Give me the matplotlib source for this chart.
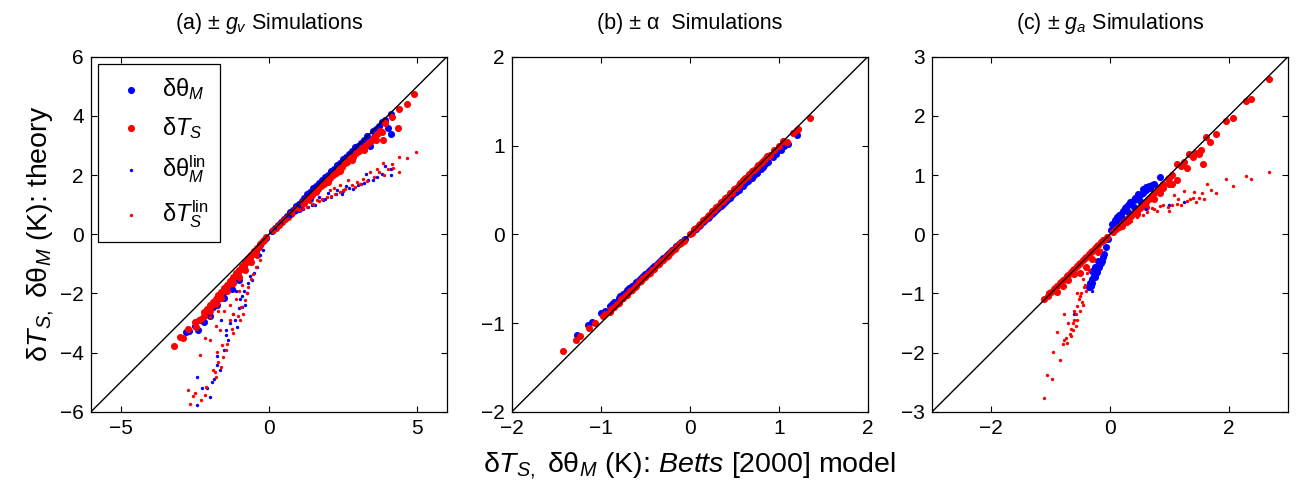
import matplotlib
matplotlib.use("Agg")
import matplotlib.pyplot as plt

plt.rcParams['font.family'] = ['Liberation Sans', 'DejaVu Sans']
plt.rcParams['mathtext.fontset'] = 'custom'
plt.rcParams['mathtext.rm'] = 'Liberation Sans'
plt.rcParams['mathtext.it'] = 'Liberation Sans:italic'
plt.rcParams['mathtext.sf'] = 'Liberation Sans'

# ------------------------------------------------------------
# Data (model value x, theory value y)
# ------------------------------------------------------------
# (a) +/- g_v simulations
a_thM_x = [0.1, 0.3, 0.5, 0.7, 0.9, 1.1, 1.3, 1.5, 1.7, 1.9, 2.1, 2.3, 2.5, 2.7, 2.9, 3.1, 3.3, 3.5,
           3.7, 3.9, 4.1, 4.1, 3.4, 1.0, 1.4,
           0.2, 0.4, 0.6, 0.8, 1.0, 1.2, 1.4, 1.6, 1.8, 2.0, 2.2, 2.4, 2.6, 2.8, 3.0, 3.2, 3.6, 3.8, 4.0,
           -0.1, -0.3, -0.5, -0.7, -0.9, -1.1, -1.3, -1.5, -1.7, -1.9, -2.1, -2.3, -2.5, -2.7, -2.4, -2.78,
           -1.0, -1.25, -1.5, -1.75, -2.0, -2.2]
a_thM_y = [0.12, 0.33, 0.52, 0.74, 0.95, 1.13, 1.36, 1.56, 1.74, 1.95, 2.14, 2.36, 2.55, 2.72, 2.95, 3.1, 3.33, 3.5,
           3.66, 3.85, 4.08, 3.40, 3.0, 0.85, 1.2,
           0.22, 0.43, 0.62, 0.83, 1.02, 1.23, 1.42, 1.62, 1.83, 2.02, 2.22, 2.41, 2.6, 2.82, 2.98, 3.2, 3.55, 3.8, 3.6,
           -0.12, -0.36, -0.62, -0.88, -1.15, -1.42, -1.7, -1.95, -2.2, -2.45, -2.68, -2.9, -3.1, -3.28, -3.25, -3.3,
           -1.55, -1.85, -2.15, -2.4, -2.75, -2.95]

a_TS_x = [0.15, 0.35, 0.55, 0.75, 0.95, 1.15, 1.35, 1.55, 1.75, 1.95, 2.15, 2.35, 2.55, 2.75, 2.95, 3.15,
          3.35, 3.55, 3.75, 3.85, 3.9, 4.15, 4.36, 4.4, 4.65, 4.9,
          1.2, 1.6, 2.0, 2.4, 2.8, 3.2, 3.6, 3.8,
          0.25, 0.45, 0.65, 0.85, 1.05, 1.25, 1.45, 1.65, 1.85, 2.05, 2.25, 2.45, 2.65, 2.85, 3.05, 3.25,
          3.45, 3.65,
          -0.1, -0.2, -0.3, -0.4, -0.5, -0.6, -0.7, -0.8, -0.9, -1.0, -1.1, -1.2, -1.3, -1.4, -1.5, -1.6,
          -1.7, -1.8, -1.9, -2.0, -2.1, -2.2, -2.35, -2.45, -2.5, -2.72, -2.9, -3.0, -3.2,
          -0.4, -0.6, -0.8, -1.0, -1.2, -1.4, -1.6, -1.8, -2.0,
          -0.15, -0.25, -0.35, -0.45, -0.55, -0.65, -0.75, -0.85, -0.95, -1.05, -1.15, -1.25, -1.35,
          -1.45, -1.55, -1.65, -1.75, -1.85, -1.95, -2.05, -2.2, -2.3]
a_TS_y = [0.15, 0.33, 0.52, 0.7, 0.9, 1.08, 1.27, 1.45, 1.65, 1.83, 2.02, 2.2, 2.4, 2.58, 2.75, 2.93,
          3.1, 3.3, 3.5, 3.2, 3.75, 3.96, 3.6, 4.25, 4.4, 4.75,
          1.05, 1.42, 1.78, 2.15, 2.5, 2.85, 3.2, 3.45,
          0.23, 0.42, 0.6, 0.79, 0.97, 1.15, 1.33, 1.52, 1.7, 1.89, 2.07, 2.26, 2.44, 2.63, 2.8, 2.98,
          3.15, 3.38,
          -0.1, -0.22, -0.33, -0.45, -0.58, -0.7, -0.82, -0.95, -1.07, -1.2, -1.32, -1.45, -1.58, -1.7, -1.82, -1.95,
          -2.05, -2.18, -2.3, -2.4, -2.52, -2.62, -2.9, -3.15, -2.95, -3.19, -3.49, -3.47, -3.78,
          -0.7, -0.95, -1.2, -1.45, -1.65, -1.9, -2.15, -2.35, -2.6,
          -0.18, -0.3, -0.44, -0.56, -0.68, -0.8, -0.93, -1.06, -1.18, -1.3, -1.42, -1.55, -1.67,
          -1.79, -1.92, -2.04, -2.16, -2.3, -2.42, -2.55, -2.75, -2.85]

a_thM_lin_x = [0.2, 0.4, 0.6, 0.8, 0.93, 1.16, 1.33, 1.55, 1.83, 2.11, 2.45, 2.6, 2.84, 3.01, 3.29, 3.35,
               3.63, 4.1, 4.1, 3.9, 2.3, 1.7, 1.0, 3.2, 2.0,
               1.45, 1.9, 2.25, 2.7, 3.1, 3.5, 3.8, 0.7, 1.1, 2.5,
               -2.42, -2.42, -1.93, -1.76, -1.52, -1.37, -1.43, -1.09, -0.92, -0.75, -0.58, -0.41, -0.19,
               -1.2, -0.98, -0.85, -0.65, -0.3, -1.6, -2.1, -1.75, -1.3,
               -0.5, -0.7, -0.8, -1.0, -1.15, -1.45, -1.65, -1.85, -2.0, -2.25, -1.1, -0.9]
a_thM_lin_y = [0.2, 0.38, 0.55, 0.7, 0.75, 0.87, 0.92, 0.98, 1.15, 1.26, 1.37, 1.62, 1.54, 1.66, 2.05, 1.84,
               1.94, 2.0, 2.2, 2.3, 1.5, 1.25, 0.95, 1.75, 1.4,
               1.0, 1.2, 1.35, 1.55, 1.7, 1.85, 2.05, 0.62, 0.9, 1.45,
               -5.78, -4.82, -4.99, -4.43, -3.92, -3.58, -3.24, -3.13, -2.46, -2.0, -1.55, -1.1, -0.54,
               -2.68, -2.2, -1.9, -1.4, -0.7, -2.9, -5.2, -4.1, -3.0,
               -1.3, -1.65, -2.4, -2.5, -2.9, -3.4, -4.6, -4.9, -5.5, -5.2, -1.9, -2.1]

a_TS_lin_x = [0.37, 0.6, 0.82, 1.05, 1.27, 1.49, 1.61, 1.78, 1.95, 2.06, 2.23, 2.39, 2.39, 2.56, 2.67, 2.79,
              2.96, 3.07, 3.18, 3.41, 3.63, 3.85, 3.88, 4.14, 4.39, 4.39, 4.66, 4.96, 1.4, 2.2,
              1.15, 1.7, 2.1, 2.5, 2.9, 3.3, 3.55, 3.7, 4.0, 4.2,
              -2.66, -2.72, -2.49, -2.16, -2.12, -1.79, -1.82, -1.54, -1.59, -1.99, -2.16, -2.33, -1.76,
              -1.65, -1.2, -0.98, -0.87, -0.81, -0.7, -0.53, -0.3, -1.31, -1.2, -1.5, -1.1, -0.9, -1.6,
              -1.4, -2.0, -1.7,
              -0.45, -0.6, -0.75, -0.95, -1.05, -1.25, -1.45, -1.7, -1.9, -2.3, -2.55, -1.0, -1.3, -1.8]
a_TS_lin_y = [0.36, 0.53, 0.7, 0.81, 0.92, 1.04, 1.15, 1.21, 1.26, 1.49, 1.37, 1.43, 1.66, 1.54, 1.82, 1.66,
              1.77, 1.71, 1.88, 2.1, 2.22, 2.42, 1.99, 2.39, 2.1, 2.61, 2.59, 2.78, 1.1, 1.55,
              0.88, 1.12, 1.3, 1.5, 1.6, 1.8, 1.95, 2.1, 2.2, 2.25,
              -5.72, -5.25, -5.35, -5.44, -5.16, -4.82, -4.65, -4.15, -3.75, -3.58, -3.52, -4.09, -3.98,
              -3.24, -3.35, -2.9, -2.68, -2.23, -1.78, -1.33, -0.88, -2.9, -2.68, -2.6, -2.2, -1.7, -4.5,
              -3.7, -2.8, -2.6,
              -1.1, -1.5, -2.0, -2.45, -2.75, -3.2, -3.9, -4.3, -4.6, -5.6, -5.45, -1.9, -2.4, -3.1]

# (b) +/- alpha simulations
b_thM_x = [-1.27, -1.14, -1.0, -0.95, -0.87, -0.8, -0.75, -0.7, -0.65, -0.6, -0.55, -0.5, -0.45, -0.4,
           -0.35, -0.3, -0.25, -0.2, -0.15, -0.1, -0.05, 0.05, 0.1, 0.15, 0.2, 0.25, 0.3, 0.35, 0.4, 0.45,
           0.5, 0.55, 0.6, 0.65, 0.7, 0.75, 0.8, 0.85, 0.93, 1.06, 1.21,
           -1.1, -0.9, -0.85, -0.78, -0.72, -0.68, -0.62, -0.57, -0.52, -0.47, -0.42, -0.37, -0.32, -0.27,
           -0.22, -0.17, -0.12, -0.07, 0.07, 0.12, 0.17, 0.22, 0.27, 0.32, 0.37, 0.42, 0.47, 0.52, 0.57,
           0.62, 0.67, 0.72, 0.77, 0.82, 0.88, 0.97, 1.02, 1.1]
b_thM_y = [-1.13, -1.02, -0.89, -0.86, -0.78, -0.72, -0.67, -0.63, -0.58, -0.54, -0.49, -0.45, -0.4, -0.36,
           -0.31, -0.27, -0.22, -0.18, -0.13, -0.09, -0.05, 0.05, 0.09, 0.14, 0.18, 0.23, 0.27, 0.32, 0.36, 0.41,
           0.46, 0.5, 0.55, 0.6, 0.64, 0.69, 0.74, 0.79, 0.87, 0.99, 1.12,
           -0.99, -0.81, -0.76, -0.70, -0.65, -0.61, -0.56, -0.51, -0.47, -0.42, -0.38, -0.33, -0.29, -0.24,
           -0.2, -0.15, -0.11, -0.06, 0.06, 0.11, 0.16, 0.2, 0.25, 0.3, 0.34, 0.39, 0.44, 0.48, 0.53,
           0.58, 0.62, 0.67, 0.72, 0.76, 0.82, 0.9, 0.95, 1.02]
b_TS_x = [-1.43, -1.28, -1.23, -1.13, -1.06, -0.98, -0.9, -0.85, -0.8, -0.75, -0.7, -0.65, -0.6, -0.55,
          -0.5, -0.45, -0.4, -0.35, -0.3, -0.25, -0.2, -0.15, -0.1, 0.0, 0.05, 0.1, 0.15, 0.2, 0.25, 0.3,
          0.35, 0.4, 0.45, 0.5, 0.55, 0.6, 0.65, 0.7, 0.75, 0.8, 0.85, 0.9, 1.0, 1.09, 1.16, 1.22, 1.35,
          -0.95, -0.88, -0.82, -0.77, -0.72, -0.67, -0.62, -0.57, -0.52, -0.47, -0.42, -0.37, -0.32, -0.27,
          -0.22, -0.17, -0.12, -0.07, 0.02, 0.07, 0.12, 0.17, 0.22, 0.27, 0.32, 0.37, 0.42, 0.47, 0.52,
          0.57, 0.62, 0.67, 0.72, 0.77, 0.82, 0.87, 0.95, 1.05, 1.2]
b_TS_y = [-1.32, -1.19, -1.15, -1.06, -1.0, -0.92, -0.87, -0.82, -0.77, -0.72, -0.68, -0.63, -0.58, -0.53,
          -0.48, -0.44, -0.39, -0.34, -0.29, -0.24, -0.19, -0.14, -0.1, 0.0, 0.06, 0.11, 0.16, 0.21, 0.26, 0.31,
          0.36, 0.41, 0.46, 0.51, 0.56, 0.61, 0.66, 0.71, 0.76, 0.8, 0.85, 0.89, 0.99, 1.04, 1.14, 1.19, 1.31,
          -0.9, -0.84, -0.78, -0.73, -0.68, -0.64, -0.59, -0.54, -0.49, -0.45, -0.4, -0.35, -0.3, -0.26,
          -0.21, -0.16, -0.11, -0.07, 0.02, 0.07, 0.12, 0.17, 0.22, 0.27, 0.32, 0.37, 0.42, 0.47, 0.52,
          0.58, 0.63, 0.68, 0.73, 0.78, 0.83, 0.88, 0.95, 1.05, 1.18]

# (c) +/- g_a simulations
c_thM_x = [-0.35, -0.33, -0.3, -0.27, -0.24, -0.2, -0.16, -0.12, -0.07, -0.03, 0.02, 0.04, 0.08, 0.12,
           0.18, 0.22, 0.27, 0.31, 0.35, 0.4, 0.45, 0.5, 0.55, 0.6, 0.63, 0.68, 0.75, 0.85,
           0.2, 0.3, 0.4, 0.5, -0.2, -0.25, -0.3,
           0.1, 0.15, 0.25, 0.33, 0.42, 0.48, 0.55, 0.6, 0.65, 0.7, 0.1, 0.15,
           -0.1, -0.14, -0.18, -0.22, -0.26, -0.3, -0.32]
c_thM_y = [-0.89, -0.83, -0.76, -0.7, -0.66, -0.57, -0.49, -0.38, -0.21, -0.08, 0.08, 0.18, 0.24, 0.29,
           0.35, 0.4, 0.46, 0.5, 0.52, 0.58, 0.63, 0.67, 0.7, 0.75, 0.8, 0.78, 0.85, 0.97,
           0.28, 0.38, 0.47, 0.57, -0.45, -0.55, -0.62,
           0.25, 0.33, 0.45, 0.55, 0.62, 0.68, 0.76, 0.8, 0.82, 0.83, 0.15, 0.22,
           -0.33, -0.45, -0.55, -0.63, -0.72, -0.82, -0.88]
c_TS_x = [0.05, 0.1, 0.15, 0.2, 0.25, 0.3, 0.35, 0.4, 0.45, 0.5, 0.55, 0.6, 0.65, 0.7, 0.74, 0.8, 0.85,
          0.9, 0.97, 1.0, 1.05, 1.13, 1.13, 1.2, 1.25, 1.33, 1.4, 1.45, 1.53, 1.56, 1.61, 1.69, 1.78, 1.95,
          2.08, 2.3, 2.37, 2.68, 1.3, 1.5, 1.0, 0.9,
          0.3, 0.45, 0.6, 0.75, 0.85, 1.05, 0.2,
          -0.05, -0.1, -0.15, -0.2, -0.25, -0.3, -0.35, -0.4, -0.45, -0.5, -0.55, -0.6, -0.65, -0.7,
          -0.75, -0.8, -0.85, -0.9, -0.95, -1.0, -1.05, -1.12, -0.2, -0.3, -0.4, -0.5,
          -0.12, -0.22, -0.32, -0.42, -0.52, -0.62, -0.72, -0.82, -0.92, -1.02, -0.6, -0.7, -0.8, -0.9]
c_TS_y = [0.04, 0.09, 0.13, 0.18, 0.22, 0.27, 0.31, 0.36, 0.4, 0.45, 0.5, 0.55, 0.6, 0.64, 0.69, 0.74, 0.8,
          0.85, 0.93, 0.95, 1.0, 1.19, 0.91, 1.15, 1.22, 1.36, 1.3, 1.38, 1.42, 1.19, 1.64, 1.56, 1.69, 1.91,
          1.97, 2.25, 2.29, 2.62, 1.12, 1.35, 0.85, 0.78,
          0.22, 0.35, 0.47, 0.6, 0.7, 0.85, 0.14,
          -0.04, -0.09, -0.13, -0.18, -0.23, -0.28, -0.33, -0.38, -0.43, -0.48, -0.53, -0.58, -0.63, -0.68,
          -0.73, -0.78, -0.83, -0.88, -0.93, -0.98, -1.04, -1.1, -0.3, -0.42, -0.55, -0.66,
          -0.1, -0.2, -0.3, -0.4, -0.5, -0.6, -0.7, -0.8, -0.9, -1.0, -0.67, -0.78, -0.87, -0.97]
c_thM_lin_x = [1.25, -0.61, -0.3, 0.6, 1.0]
c_thM_lin_y = [0.55, -1.34, -0.95, 0.42, 0.5]
c_TS_lin_x = [-1.11, -1.06, -0.98, -0.96, -0.85, -0.89, -0.78, -0.72, -0.66, -0.63, -0.61, -0.78, -0.55,
              -0.49, -0.44, -0.38, -0.27, -0.16, -0.58, -0.6, -0.52, -0.5, -0.45, -0.4, -0.65, -0.7, -0.55,
              -0.47, -0.35, -0.42, -0.5, -0.57, -0.62, -0.68, -0.75, -0.8, -0.55, -0.46,
              2.68, 2.37, 2.30, 2.08, 1.95, 1.78, 1.64, 1.58, 1.42, 1.30, 1.13, 0.97, 0.80, 0.63, 0.46,
              0.29, 0.18, 1.08, 1.25, 1.5, 1.2, 0.9, 0.7, 1.0, 1.35, 1.7,
              0.55, 0.75, 0.85, 1.05, 1.15, 1.4, 1.55, 1.45, 0.35, 0.25]
c_TS_lin_y = [-2.77, -2.38, -2.44, -1.99, -2.12, -1.65, -1.79, -1.83, -1.72, -1.62, -1.45, -1.34, -1.22,
              -1.0, -0.89, -0.66, -0.44, -0.27, -1.55, -1.3, -1.1, -1.3, -0.75, -0.95, -1.6, -1.5, -1.45,
              -1.15, -0.6, -0.85, -1.05, -1.35, -1.5, -1.68, -1.75, -1.85, -1.0, -1.2,
              1.05, 0.94, 0.99, 0.81, 0.93, 0.70, 0.85, 0.60, 0.72, 0.57, 0.52, 0.46, 0.40, 0.38, 0.29,
              0.18, 0.10, 0.66, 0.74, 0.62, 0.5, 0.5, 0.45, 0.4, 0.6, 0.75,
              0.33, 0.42, 0.48, 0.5, 0.6, 0.62, 0.7, 0.55, 0.22, 0.2]

titles = ['(a) ± $g_v$ Simulations', '(b) ± α  Simulations', '(c) ± $g_a$ Simulations']
limits = [6, 2, 3]
xticks = [[-5, 0, 5], [-2, -1, 0, 1, 2], [-2, 0, 2]]
yticks = [[-6, -4, -2, 0, 2, 4, 6], [-2, -1, 0, 1, 2], [-3, -2, -1, 0, 1, 2, 3]]
legend_labels = ['δθ$_{M}$', 'δ$T_{S}$', 'δθ$_{M}^{\\mathrm{lin}}$', 'δ$T_{S}^{\\mathrm{lin}}$']

panels = [
    [(a_thM_x, a_thM_y), (a_TS_x, a_TS_y), (a_thM_lin_x, a_thM_lin_y), (a_TS_lin_x, a_TS_lin_y)],
    [(b_thM_x, b_thM_y), (b_TS_x, b_TS_y), ([], []), ([], [])],
    [(c_thM_x, c_thM_y), (c_TS_x, c_TS_y), (c_thM_lin_x, c_thM_lin_y), (c_TS_lin_x, c_TS_lin_y)],
]

colors = ['#0000ff', '#ff0000', '#0000ff', '#ff0000']
sizes = [26, 26, 6, 6]

fig = plt.figure(figsize=(12.99, 4.92), dpi=100)
lefts = [0.070, 0.394, 0.7175]
axes = [fig.add_axes([l, 0.163, 0.274, 0.7215]) for l in lefts]

for i, ax in enumerate(axes):
    for (xs, ys), c, s, lab in zip(panels[i], colors, sizes, legend_labels):
        ax.scatter(xs, ys, s=s, c=c, linewidths=0, label=lab, zorder=2)
    ax.axline((0, 0), slope=1, color='black', lw=1.0, zorder=3)
    lim = limits[i]
    ax.set_xlim(-lim, lim)
    ax.set_ylim(-lim, lim)
    ax.set_xticks(xticks[i])
    ax.set_yticks(yticks[i])
    ax.tick_params(direction='in', top=True, right=True, length=4, width=0.8,
                   labelsize=15, pad=5)
    for sp in ax.spines.values():
        sp.set_linewidth(0.9)
    ax.set_title(titles[i], fontsize=15.5, pad=20)

axes[0].set_ylabel('δ$T_{S,}$ δθ$_{M}$ (K): theory', fontsize=20.5, labelpad=3)
axes[1].set_xlabel('δ$T_{S,}$ δθ$_{M}$ (K): $Betts$ [2000] model', fontsize=20.5, labelpad=9)

leg = axes[0].legend(loc='upper left', fontsize=17, scatterpoints=1, fancybox=False,
                     edgecolor='black', framealpha=1, borderaxespad=0.3, borderpad=0.5,
                     labelspacing=0.55, handletextpad=0.4, handlelength=1.8)
leg.get_frame().set_linewidth(0.9)

fig.savefig('out.png', dpi=100)
